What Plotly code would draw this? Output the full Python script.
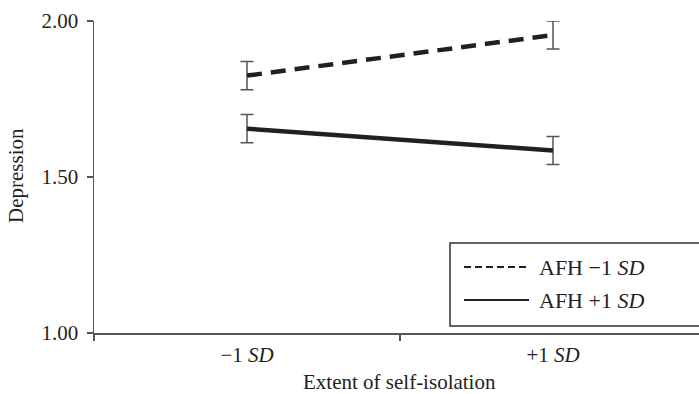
import plotly.graph_objects as go

# Data
categories = ["\u22121 <i>SD</i>", "+1 <i>SD</i>"]
cat_pos = [0, 1]
afh_low = [1.825, 1.955]      # AFH -1 SD (dashed)
afh_high = [1.655, 1.585]     # AFH +1 SD (solid)
err_low = [0.045, 0.045]
err_high = [0.045, 0.045]
series_names = ["AFH \u22121 <i>SD</i>", "AFH +1 <i>SD</i>"]
y_ticks = [1.0, 1.5, 2.0]
y_ticklabels = ["1.00", "1.50", "2.00"]

FONT = "Liberation Serif, Times New Roman, serif"
INK = "#231f20"
AXIS = "#555555"

fig = go.Figure()

fig.add_trace(go.Scatter(
    x=cat_pos, y=afh_low, mode="lines", name=series_names[0],
    line=dict(color=INK, width=4.5, dash="15px,9px"),
    error_y=dict(type="data", array=err_low, visible=True, color=AXIS, thickness=1.5, width=6.5),
    cliponaxis=False, showlegend=False,
))
fig.add_trace(go.Scatter(
    x=cat_pos, y=afh_high, mode="lines", name=series_names[1],
    line=dict(color=INK, width=4.5),
    error_y=dict(type="data", array=err_high, visible=True, color=AXIS, thickness=1.5, width=6.5),
    cliponaxis=False, showlegend=False,
))

W, H = 699, 394
L, R, T, B = 94, 0, 21, 61
plot_w = W - L - R
px_per_cat = 306.0
x0 = -0.5
x1 = x0 + plot_w / px_per_cat

fig.update_layout(
    width=W, height=H,
    margin=dict(l=L, r=R, t=T, b=B, pad=0),
    paper_bgcolor="white", plot_bgcolor="white",
    font=dict(family=FONT, size=21, color=INK),
    showlegend=False,
    hovermode=False,
    xaxis=dict(
        range=[x0, x1], tickvals=cat_pos, ticktext=categories,
        ticks="", showgrid=False, zeroline=False,
        showline=True, linecolor=AXIS, linewidth=1.5,
        tickfont=dict(family=FONT, size=21, color=INK),
        minor=dict(tickvals=[-0.5, 0.5, 1.5], ticks="outside", ticklen=6, tickcolor=AXIS, tickwidth=1.5, showgrid=False),
        ticklabelstandoff=2,
    ),
    yaxis=dict(
        range=[1.0, 2.0], tickvals=y_ticks, ticktext=y_ticklabels,
        ticks="outside", ticklen=6, tickcolor=AXIS, tickwidth=1.5,
        showgrid=False, zeroline=False,
        showline=True, linecolor=AXIS, linewidth=1.5,
        tickfont=dict(family=FONT, size=21, color=INK),
        ticklabelstandoff=4,
    ),
)

def px_x(px):
    return (px - L) / plot_w

def px_y(py):
    return (H - B - py) / (H - T - B)

# axis titles
fig.add_annotation(text="Extent of self-isolation", xref="paper", yref="paper",
                   x=px_x(399), y=px_y(382), showarrow=False,
                   xanchor="center", yanchor="middle", font=dict(family=FONT, size=21, color=INK))
fig.add_annotation(text="Depression", xref="paper", yref="paper",
                   x=px_x(16), y=px_y(176), showarrow=False, textangle=-90,
                   xanchor="center", yanchor="middle", font=dict(family=FONT, size=21, color=INK))

# legend box (drawn)
fig.add_shape(type="rect", xref="paper", yref="paper",
              x0=px_x(450), x1=px_x(712), y0=px_y(326), y1=px_y(243),
              line=dict(color="#333333", width=1.5), fillcolor="white", layer="above")
leg_y = [267, 300]
leg_dash = ["7px,4px", "solid"]
for name, yy, dsh in zip(series_names, leg_y, leg_dash):
    fig.add_shape(type="line", xref="paper", yref="paper",
                  x0=px_x(464), x1=px_x(529), y0=px_y(yy), y1=px_y(yy),
                  line=dict(color=INK, width=2, dash=dsh), layer="above")
    fig.add_annotation(text=name, xref="paper", yref="paper",
                       x=px_x(537), y=px_y(yy), showarrow=False,
                       xanchor="left", yanchor="middle", font=dict(family=FONT, size=22, color=INK))

fig.write_html("out.html", config={"displayModeBar": False, "staticPlot": True},
               post_script="document.body.style.margin='0';document.body.style.overflow='hidden';")
